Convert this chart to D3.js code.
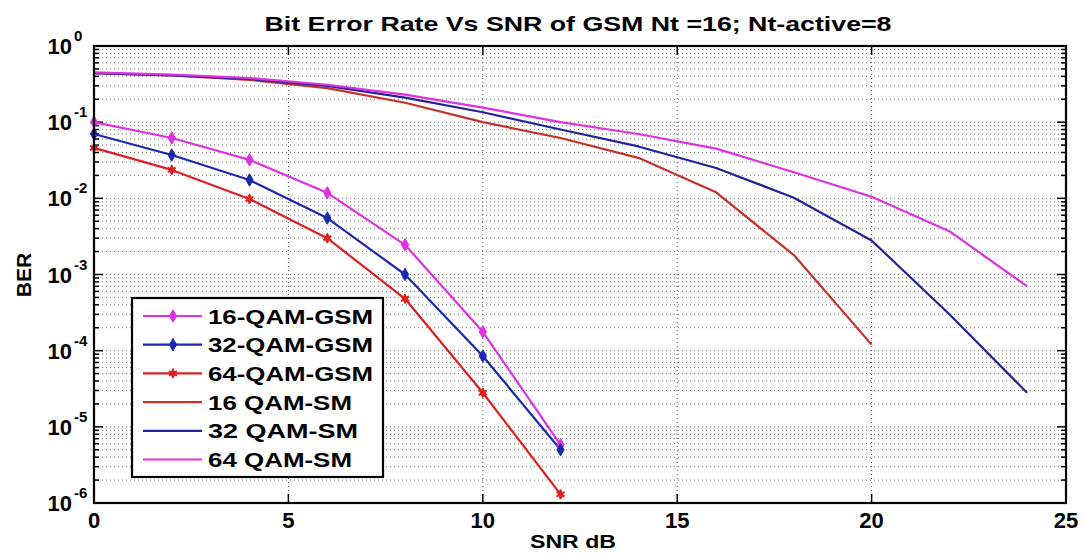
<!DOCTYPE html>
<html><head><meta charset="utf-8">
<script src="https://cdn.jsdelivr.net/npm/d3@7"></script>
<style>body{margin:0;background:#fff}svg text{font-family:"Liberation Sans",Arial,sans-serif;font-weight:bold;fill:#000}</style>
</head><body><svg id="c" width="1083" height="554"></svg>
<script>
// ---- data ----
const title = "Bit Error Rate Vs SNR of GSM  Nt =16; Nt-active=8";
const xLabel = "SNR dB";
const yLabel = "BER";
const xTicks = [0,5,10,15,20,25];
const yTickExps = [0,-1,-2,-3,-4,-5,-6];

const snrGSM = [0,2,4,6,8,10,12];
const ber16GSM = [0.1, 0.062, 0.032, 0.0118, 0.00245, 0.000177, 5.8e-6];
const ber32GSM = [0.07, 0.037, 0.0174, 0.0055, 0.001, 8.5e-5, 5e-6];
const ber64GSM = [0.046, 0.0236, 0.0098, 0.003, 0.00048, 2.8e-5, 1.3e-6];

const snrSM16 = [0,2,4,6,8,10,12,14,16,18,20];
const ber16SM = [0.44, 0.41, 0.36, 0.28, 0.18, 0.1, 0.062, 0.034, 0.012, 0.0018, 0.00012];
const snrSM = [0,2,4,6,8,10,12,14,16,18,20,22,24];
const ber32SM = [0.44, 0.41, 0.37, 0.3, 0.21, 0.135, 0.08, 0.048, 0.025, 0.0102, 0.0028, 0.0003, 0.000028];
const ber64SM = [0.45, 0.42, 0.38, 0.31, 0.23, 0.155, 0.1, 0.07, 0.045, 0.022, 0.0105, 0.0037, 0.0007];

const seriesNames = ["16-QAM-GSM","32-QAM-GSM","64-QAM-GSM","16 QAM-SM","32  QAM-SM","64 QAM-SM"];
// ---- layout ----
const L=94,R=1066,T=46,B=503;
const svg=d3.select("#c");
const x=d3.scaleLinear().domain([0,25]).range([L,R]);
const y=d3.scaleLog().domain([1e-6,1]).range([B,T]);

const series=[
 {name:seriesNames[3],xs:snrSM16,ys:ber16SM,color:"#c8302a",marker:null},
 {name:seriesNames[4],xs:snrSM,ys:ber32SM,color:"#22229a",marker:null},
 {name:seriesNames[5],xs:snrSM,ys:ber64SM,color:"#e030e0",marker:null},
 {name:seriesNames[0],xs:snrGSM,ys:ber16GSM,color:"#e030e0",marker:"diamond"},
 {name:seriesNames[1],xs:snrGSM,ys:ber32GSM,color:"#1a2ab0",marker:"diamond"},
 {name:seriesNames[2],xs:snrGSM,ys:ber64GSM,color:"#e02020",marker:"star"},
];

const isDecade=d=>Math.abs(Math.log10(d)-Math.round(Math.log10(d)))<1e-6;

// grid
const g=svg.append("g");
const minorVals=[];
for(let e=-6;e<0;e++){for(let m=1;m<10;m++){minorVals.push(m*Math.pow(10,e));}}
minorVals.push(1);
g.selectAll("line.gy").data(minorVals).join("line")
 .attr("x1",L).attr("x2",R).attr("y1",d=>y(d)).attr("y2",d=>y(d))
 .attr("stroke","#777").attr("stroke-width",1).attr("stroke-dasharray","1,3");
g.selectAll("line.gx").data(xTicks.slice(1,-1)).join("line")
 .attr("x1",d=>x(d)).attr("x2",d=>x(d)).attr("y1",T).attr("y2",B)
 .attr("stroke","#555").attr("stroke-width",1).attr("stroke-dasharray","1,3");

// axes ticks
const ax=svg.append("g");
ax.selectAll("line.tl").data(minorVals).join("line")
 .attr("x1",L).attr("x2",d=>L+(isDecade(d)?9:5)).attr("y1",d=>y(d)).attr("y2",d=>y(d)).attr("stroke","#000").attr("stroke-width",1.5);
ax.selectAll("line.tr").data(minorVals).join("line")
 .attr("x1",R).attr("x2",d=>R-(isDecade(d)?9:5)).attr("y1",d=>y(d)).attr("y2",d=>y(d)).attr("stroke","#000").attr("stroke-width",1.5);
ax.selectAll("line.tb").data(xTicks).join("line")
 .attr("x1",d=>x(d)).attr("x2",d=>x(d)).attr("y1",B).attr("y2",B-9).attr("stroke","#000").attr("stroke-width",1.5);
ax.selectAll("line.tt").data(xTicks).join("line")
 .attr("x1",d=>x(d)).attr("x2",d=>x(d)).attr("y1",T).attr("y2",T+9).attr("stroke","#000").attr("stroke-width",1.5);

// lines
const line=d3.line().x(d=>x(d[0])).y(d=>y(d[1]));
const ls=svg.append("g");
series.forEach(s=>{
  const pts=s.xs.map((v,i)=>[v,s.ys[i]]);
  ls.append("path").attr("d",line(pts)).attr("fill","none").attr("stroke",s.color).attr("stroke-width",2.2).attr("stroke-linejoin","round");
});
function drawMarker(sel,type,cx,cy,color){
  if(type==="diamond"){
    sel.append("path").attr("d",d3.symbol(d3.symbolDiamond,45)()).attr("transform",`translate(${cx},${cy})`).attr("fill",color).attr("stroke",color).attr("stroke-width",1);
  } else if(type==="star"){
    sel.append("path").attr("d",d3.symbol(d3.symbolDiamond,35)()).attr("transform",`translate(${cx},${cy})`).attr("fill",color);
    sel.append("path").attr("d",d3.symbol(d3.symbolAsterisk||d3.symbolCross,60)()).attr("transform",`translate(${cx},${cy})`).attr("fill","none").attr("stroke",color).attr("stroke-width",2);
  }
}
series.filter(s=>s.marker).forEach(s=>{
  s.xs.forEach((v,i)=>drawMarker(ls,s.marker,x(v),y(s.ys[i]),s.color));
});

// frame
svg.append("rect").attr("x",L).attr("y",T).attr("width",R-L).attr("height",B-T).attr("fill","none").attr("stroke","#000").attr("stroke-width",2.2);

// tick labels
const tl=svg.append("g");
xTicks.forEach(t=>{
  tl.append("text").attr("x",x(t)).attr("y",528).attr("text-anchor","middle").attr("font-size",22).text(t);
});
yTickExps.forEach(e=>{
  const yy=y(Math.pow(10,e));
  tl.append("text").attr("x",72).attr("y",yy+8).attr("text-anchor","end").attr("font-size",22).text("10");
  tl.append("text").attr("x",74).attr("y",yy-5).attr("font-size",15).text(e);
});

// titles
svg.append("text").attr("x",578).attr("y",31).attr("text-anchor","middle").attr("font-size",21).attr("textLength",627).attr("lengthAdjust","spacingAndGlyphs").text(title);
svg.append("text").attr("x",573).attr("y",548).attr("text-anchor","middle").attr("font-size",19).attr("textLength",86).attr("lengthAdjust","spacingAndGlyphs").text(xLabel);
svg.append("text").attr("transform","translate(31,275) rotate(-90)").attr("text-anchor","middle").attr("font-size",21).text(yLabel);

// legend
const lg=svg.append("g");
lg.append("rect").attr("x",132).attr("y",298).attr("width",251).attr("height",179).attr("fill","#fff").attr("stroke","#000").attr("stroke-width",2.2);
const legOrder=[3,4,5,0,1,2];
const legWidths=[165,165,165,144,150,144];
legOrder.forEach((si,i)=>{
  const s=series[si];
  const yy=316+i*28.7;
  lg.append("line").attr("x1",143).attr("x2",202).attr("y1",yy).attr("y2",yy).attr("stroke",s.color).attr("stroke-width",2.2);
  if(s.marker) drawMarker(lg,s.marker,173,yy,s.color);
  lg.append("text").attr("x",208).attr("y",yy+7.5).attr("font-size",21).attr("textLength",legWidths[i]).attr("lengthAdjust","spacingAndGlyphs").text(s.name);
});
</script></body></html>
